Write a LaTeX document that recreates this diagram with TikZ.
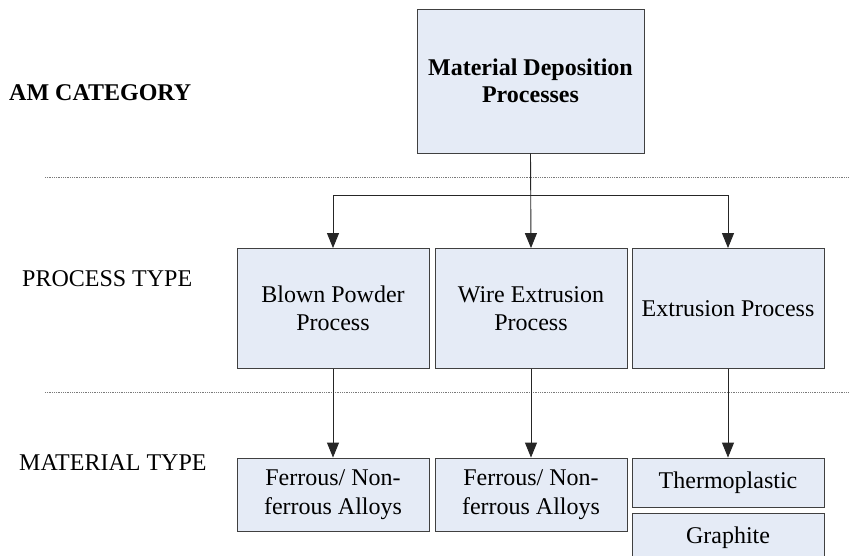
\documentclass[tikz,border=0pt]{standalone}
\usepackage{fontspec}
\setmainfont{Liberation Serif}
\usetikzlibrary{arrows.meta}
\definecolor{boxfill}{HTML}{E5EBF6}
\definecolor{boxline}{HTML}{404040}
\definecolor{sepline}{HTML}{7A7A7A}
\tikzset{
  every node/.style={font=\fontsize{24}{28.5}\selectfont},
  procbox/.style={draw=boxline, fill=boxfill, line width=0.9pt, inner sep=0pt,
    align=center, minimum width=192pt},
  tier/.style={anchor=base west, inner sep=0pt},
  link/.style={draw=black!85, line width=0.9pt,
    -{Triangle[length=15pt,width=12pt]}},
  separator/.style={draw=sepline, line width=0.8pt, dash pattern=on 1pt off 0.8pt}
}
\begin{document}
\begin{tikzpicture}[x=1pt,y=-1pt]
\clip (0,0) rectangle (849,555);
\fill[white] (0,0) rectangle (849,555);

% tier separators
\draw[separator] (45,177) -- (849,177);
\draw[separator] (45,392) -- (849,392);

% tier labels
\node[tier, font=\fontsize{24}{28.5}\selectfont\bfseries] (lcat) at (9,100) {AM CATEGORY};
\node[tier] (lproc) at (22,286) {PROCESS TYPE};
\node[tier] (lmat) at (19,470) {MATERIAL TYPE};

% category
\node[procbox, minimum width=227pt, minimum height=144pt,
      font=\fontsize{24}{27}\selectfont\bfseries] (top) at (530.5,81)
  {Material Deposition\\Processes};

% process types
\node[procbox, minimum height=120pt] (p1) at (333,308.5) {Blown Powder\\Process};
\node[procbox, minimum height=120pt] (p2) at (531,308.5) {Wire Extrusion\\Process};
\node[procbox, minimum height=120pt] (p3) at (728,308.5) {Extrusion Process};

% material types
\node[procbox, minimum height=73pt] (m1) at (333,494.5) {Ferrous/ Non-\\ferrous Alloys};
\node[procbox, minimum height=73pt] (m2) at (531,494.5) {Ferrous/ Non-\\ferrous Alloys};
\node[procbox, minimum height=49pt] (m3) at (728,482.5) {Thermoplastic};
\node[procbox, minimum height=49pt] (m4) at (728,537.5) {Graphite};

% connectors
\coordinate (bus) at (top.south |- 0,195);
\draw[link] (top.south) -- (p2.north);
\draw[link] (bus) -| (p1.north);
\draw[link] (bus) -| (p3.north);
\draw[link] (p1.south) -- (m1.north);
\draw[link] (p2.south) -- (m2.north);
\draw[link] (p3.south) -- (m3.north);
\end{tikzpicture}
\end{document}
